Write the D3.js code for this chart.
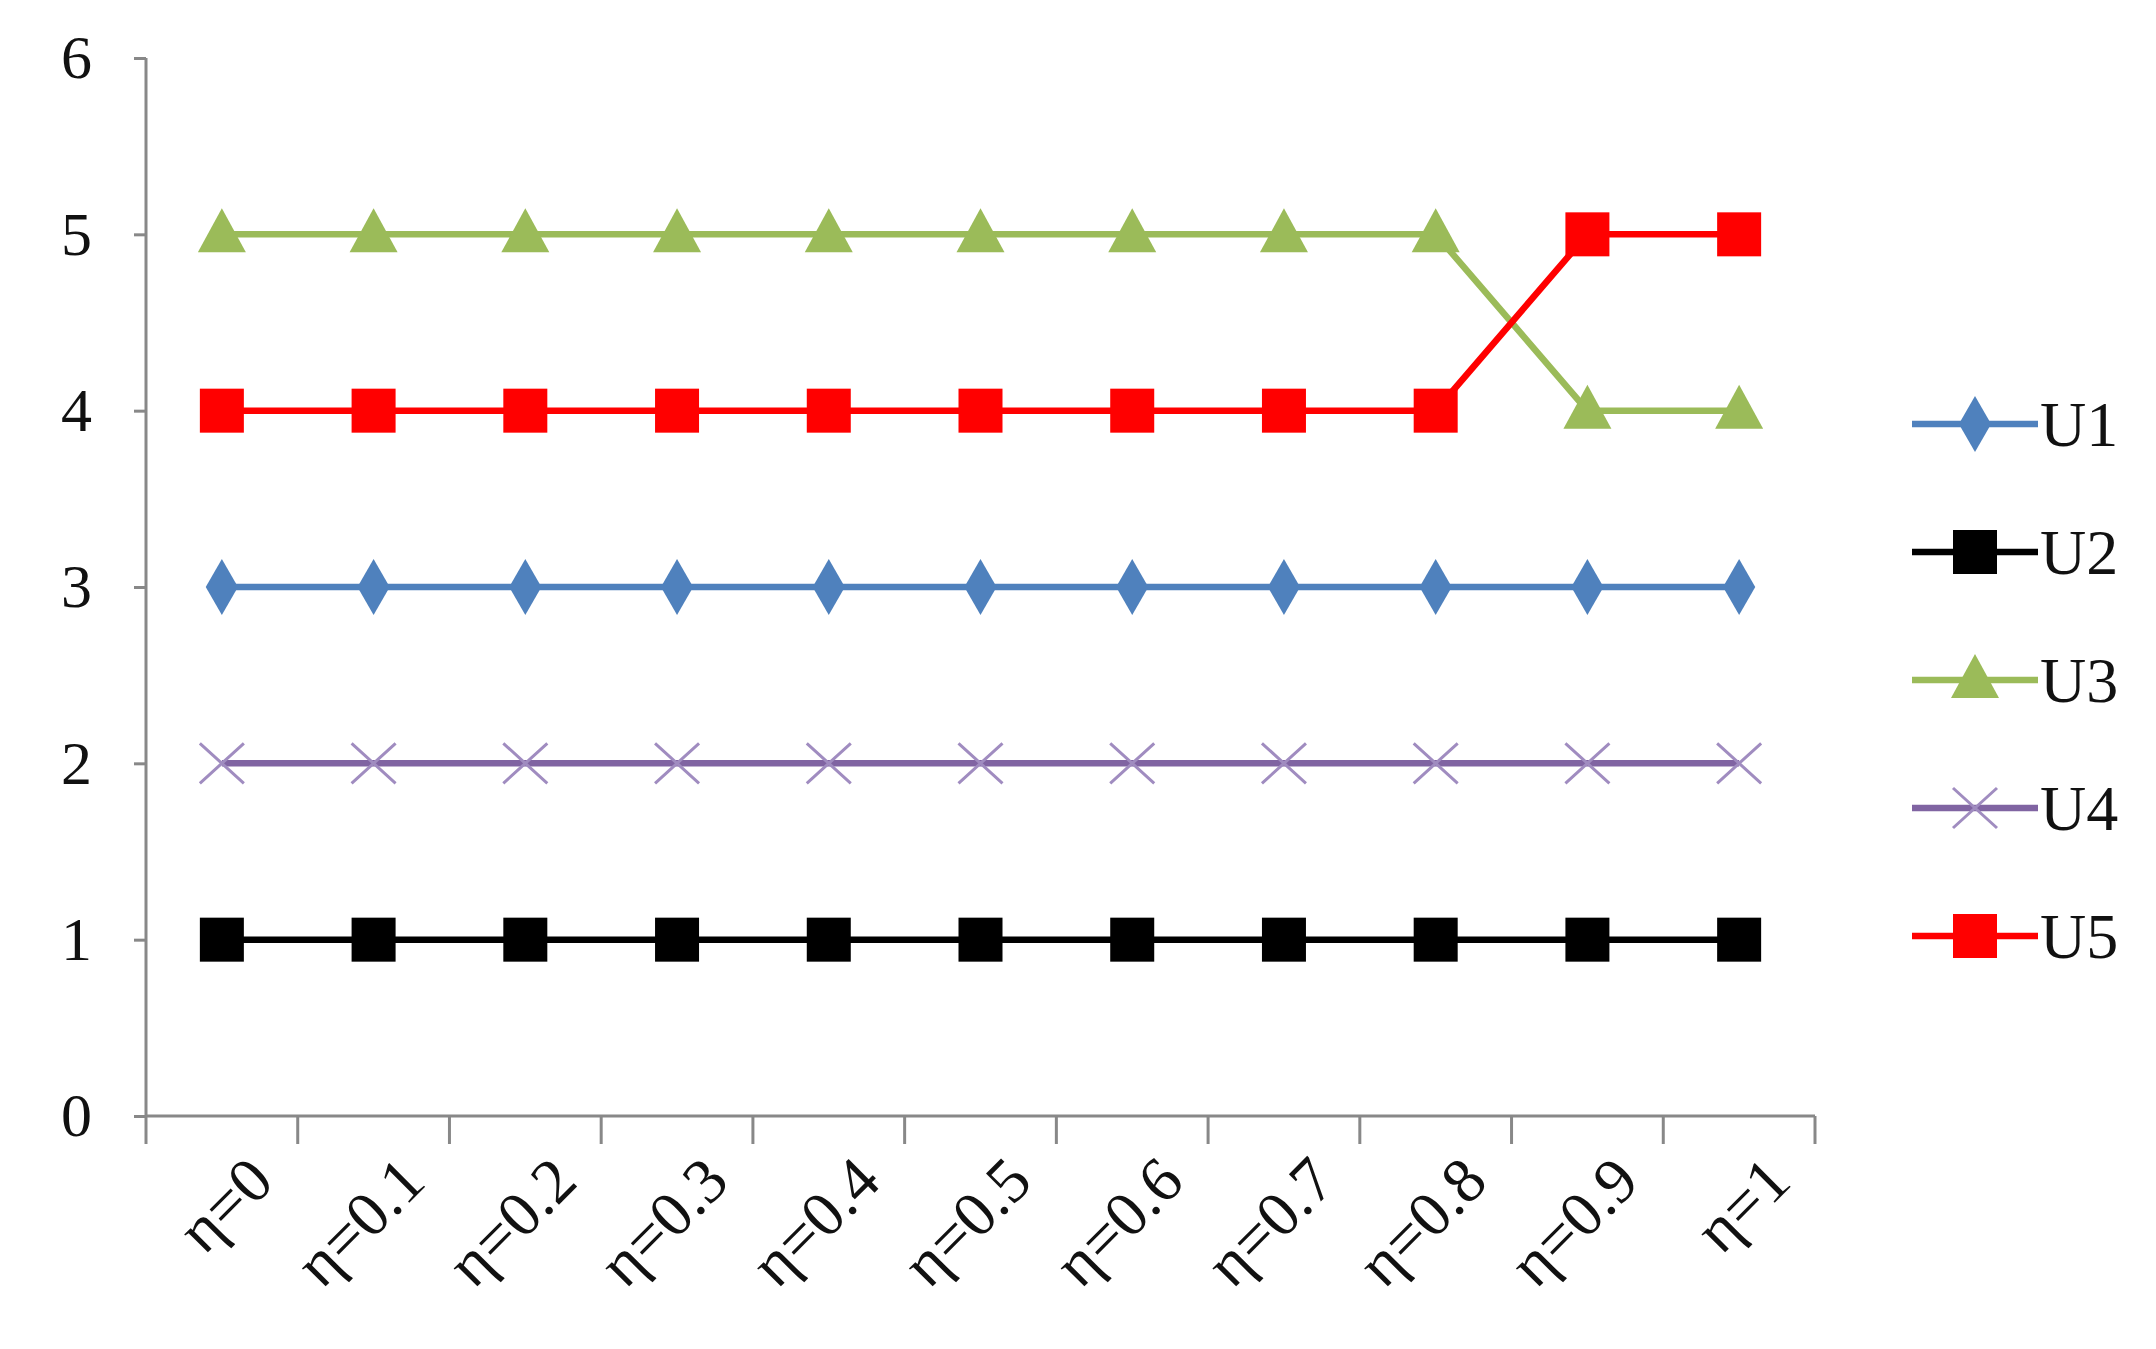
<!DOCTYPE html>
<html><head><meta charset="utf-8">
<script src="https://cdn.jsdelivr.net/npm/d3@7"></script>
<style>body{margin:0;background:#fff}</style></head>
<body><svg id="c" width="2156" height="1349"></svg>
<script>
const categories = ["η=0","η=0.1","η=0.2","η=0.3","η=0.4","η=0.5","η=0.6","η=0.7","η=0.8","η=0.9","η=1"];
const U1 = [3,3,3,3,3,3,3,3,3,3,3];
const U2 = [1,1,1,1,1,1,1,1,1,1,1];
const U3 = [5,5,5,5,5,5,5,5,5,4,4];
const U4 = [2,2,2,2,2,2,2,2,2,2,2];
const U5 = [4,4,4,4,4,4,4,4,4,5,5];
const yTicks = [0,1,2,3,4,5,6];
const seriesNames = ["U1","U2","U3","U4","U5"];
const series = [
  {name:"U1", values:U1, color:"#4f81bd", sym:"diamond"},
  {name:"U2", values:U2, color:"#000000", sym:"square"},
  {name:"U3", values:U3, color:"#9bbb59", sym:"triangle"},
  {name:"U4", values:U4, color:"#8064a2", sym:"x"},
  {name:"U5", values:U5, color:"#ff0000", sym:"square"}
];
const svg = d3.select("#c");
const font = "'Liberation Serif','Times New Roman',serif";
const x = d3.scaleBand().domain(categories).range([146,1815]);
const y = d3.scaleLinear().domain([0,6]).range([1116,58]);
const axisColor = "#888";
const ya = svg.append("g").attr("transform","translate(146,0)")
  .call(d3.axisLeft(y).tickValues(yTicks).tickSize(12).tickPadding(42).tickFormat(d3.format("d")));
ya.selectAll("path,line").attr("stroke",axisColor).attr("stroke-width",3);
ya.select(".domain").attr("d","M0,58V1116");
ya.selectAll("text").attr("font-family",font).attr("font-size",62).attr("fill","#111");
const xa = svg.append("g").attr("transform","translate(0,1116)")
  .call(d3.axisBottom(x).tickSize(0).tickFormat(""));
xa.select(".domain").attr("stroke",axisColor).attr("stroke-width",3).attr("d","M146,0H1815");
const bounds = categories.map(c=>x(c)).concat([1815]);
svg.append("g").selectAll("line").data(bounds).join("line")
  .attr("x1",d=>d).attr("x2",d=>d).attr("y1",1116).attr("y2",1144)
  .attr("stroke",axisColor).attr("stroke-width",3);
svg.append("g").selectAll("text").data(categories).join("text")
  .attr("transform",d=>`translate(${x(d)+x.bandwidth()/2+22},1152) rotate(-45)`)
  .attr("text-anchor","end").attr("dominant-baseline","hanging")
  .attr("font-family",font).attr("font-size",64).attr("fill","#111").text(d=>d);
function marker(g, s, cx, cy){
  if(s.sym==="diamond") g.append("path").attr("d",d3.symbol(d3.symbolDiamond, 900)()).attr("transform",`translate(${cx},${cy})`).attr("fill",s.color);
  else if(s.sym==="square") g.append("rect").attr("x",cx-22).attr("y",cy-22).attr("width",44).attr("height",44).attr("fill",s.color);
  else if(s.sym==="triangle") g.append("path").attr("d",`M${cx},${cy-26}L${cx+24},${cy+18}L${cx-24},${cy+18}Z`).attr("fill",s.color);
  else g.append("path").attr("d",`M${cx-22},${cy-20}L${cx+22},${cy+20}M${cx-22},${cy+20}L${cx+22},${cy-20}`).attr("stroke","#a08cc0").attr("stroke-width",3);
}
const cxf = c=>x(c)+x.bandwidth()/2;
const line = d3.line().x((d,i)=>cxf(categories[i])).y(d=>y(d));
[3,0,1,2,4].forEach(k=>{
  const s = series[k];
  const g = svg.append("g");
  g.append("path").attr("d",line(s.values)).attr("fill","none").attr("stroke",s.color).attr("stroke-width",6.5);
  s.values.forEach((v,i)=>marker(g,s,cxf(categories[i]),y(v)));
});
const ly = d3.scalePoint().domain(seriesNames).range([424,936]);
series.forEach(s=>{
  const g = svg.append("g");
  const yy = ly(s.name);
  g.append("line").attr("x1",1912).attr("x2",2038).attr("y1",yy).attr("y2",yy).attr("stroke",s.color).attr("stroke-width",6.5);
  marker(g,s,1975,yy);
  g.append("text").attr("x",2040).attr("y",yy+22).attr("font-family",font).attr("font-size",64).attr("fill","#111").text(s.name);
});
</script></body></html>
